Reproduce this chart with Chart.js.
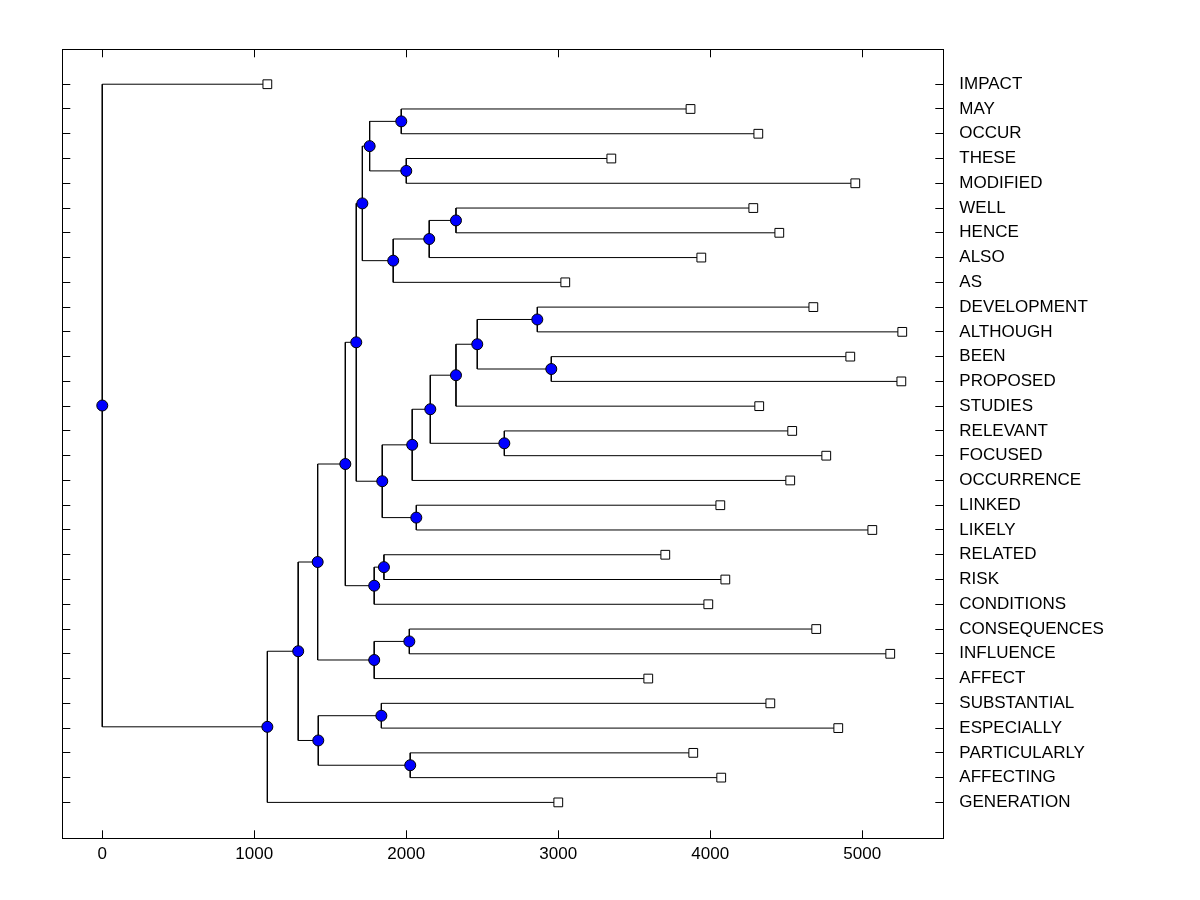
<!DOCTYPE html>
<html>
<head>
<meta charset="utf-8">
<title>Dendrogram</title>
<script src="https://cdn.jsdelivr.net/npm/chart.js@4.4.1/dist/chart.umd.min.js"></script>
<style>
    html, body { margin: 0; padding: 0; background: #fff; }
    #wrap { width: 1200px; height: 900px; position: relative; }
</style>
</head>
<body>
<div id="wrap"><canvas id="dendro"></canvas></div>
<script>
// ===================================
// Dendrogram (leaf order top -> bottom)
// ===================================

const leaves = [
    'IMPACT', 'MAY', 'OCCUR', 'THESE', 'MODIFIED', 'WELL', 'HENCE', 'ALSO', 'AS',
    'DEVELOPMENT', 'ALTHOUGH', 'BEEN', 'PROPOSED', 'STUDIES', 'RELEVANT', 'FOCUSED',
    'OCCURRENCE', 'LINKED', 'LIKELY', 'RELATED', 'RISK', 'CONDITIONS', 'CONSEQUENCES',
    'INFLUENCE', 'AFFECT', 'SUBSTANTIAL', 'ESPECIALLY', 'PARTICULARLY', 'AFFECTING', 'GENERATION'
];

// leaf end positions (x value of the square)
const leafValues = [
    1086, 3870, 4316, 3349, 4954, 4283, 4454, 3941, 3046,
    4678, 5263, 4921, 5257, 4322, 4539, 4763,
    4526, 4066, 5066, 3704, 4099, 3987, 4697,
    5184, 3592, 4395, 4842, 3888, 4072, 3000
];

// merges: children are leaf names or earlier node ids
const mergeIds    = ['n1','n2','n3','n4','n5','n6','n7','n8','n9','n10','n11','n12','n13','n14','n15',
                     'n16','n17','n18','n19','n20','n21','n22','n23','n24','n25','n26','n27','n28','n29'];
const mergeLeft   = ['WELL','n1','n2','MAY','THESE','n4','n6','DEVELOPMENT','BEEN','n8','n10','RELEVANT','n11','n13','LINKED',
                     'n14','n7','RELATED','n18','n17','CONSEQUENCES','n21','n20','SUBSTANTIAL','PARTICULARLY','n24','n23','n27','IMPACT'];
const mergeRight  = ['HENCE','ALSO','AS','OCCUR','MODIFIED','n5','n3','ALTHOUGH','PROPOSED','n9','STUDIES','FOCUSED','n12','OCCURRENCE','LIKELY',
                     'n15','n16','RISK','CONDITIONS','n19','INFLUENCE','AFFECT','n22','ESPECIALLY','AFFECTING','n25','n26','GENERATION','n28'];
const mergeValues = [2327, 2151, 1914, 1967, 2000, 1759, 1711, 2862, 2954, 2467, 2327, 2645, 2158, 2039, 2066,
                     1842, 1671, 1853, 1789, 1599, 2020, 1789, 1417, 1836, 2026, 1421, 1289, 1086, 0];

const xTicks = [0, 1000, 2000, 3000, 4000, 5000];

// Build node positions (y = mean of children rows)
const pos = {};
leaves.forEach((name, i) => { pos[name] = { x: leafValues[i], y: i }; });
mergeIds.forEach((id, i) => {
    const a = pos[mergeLeft[i]], b = pos[mergeRight[i]];
    pos[id] = { x: mergeValues[i], y: (a.y + b.y) / 2 };
});

// One elbow polyline per merge
const linkSets = mergeIds.map((id, i) => {
    const a = pos[mergeLeft[i]], b = pos[mergeRight[i]], h = mergeValues[i];
    return {
        type: 'scatter',
        data: [{ x: a.x, y: a.y }, { x: h, y: a.y }, { x: h, y: b.y }, { x: b.x, y: b.y }],
        showLine: true,
        borderColor: '#000',
        borderWidth: 1,
        pointRadius: 0,
        tension: 0,
        order: 2
    };
});

const nodeSet = {
    type: 'scatter',
    data: mergeIds.map(id => pos[id]),
    pointStyle: 'circle',
    pointRadius: 5.5,
    pointBackgroundColor: '#0000ff',
    pointBorderColor: '#000',
    pointBorderWidth: 1,
    showLine: false,
    order: 0
};

const leafSet = {
    type: 'scatter',
    data: leaves.map(name => pos[name]),
    pointStyle: 'rect',
    pointRadius: 6.2,
    pointBackgroundColor: '#fff',
    pointBorderColor: '#000',
    pointBorderWidth: 1,
    showLine: false,
    order: 1
};

const FONT = { family: '"Liberation Sans", Arial, sans-serif', size: 17 };
const Y_MIN = -1.41, Y_MAX = 30.45;
const X_MIN = -263, X_MAX = 5533;

function leafTicks(axis) {
    axis.ticks = leaves.map((_, i) => ({ value: i }));
}

const inwardGrid = { drawOnChartArea: false, drawTicks: true, tickLength: -8, color: '#000', lineWidth: 1 };
const blackBorder = { display: true, color: '#000', width: 1 };

new Chart(document.getElementById('dendro'), {
    type: 'scatter',
    data: { datasets: [nodeSet, leafSet, ...linkSets] },
    options: {
        responsive: true,
        maintainAspectRatio: false,
        animation: false,
        layout: { padding: 0 },
        plugins: {
            legend: { display: false },
            tooltip: { enabled: false }
        },
        scales: {
            x: {
                type: 'linear',
                position: 'bottom',
                min: X_MIN,
                max: X_MAX,
                afterBuildTicks: axis => { axis.ticks = xTicks.map(v => ({ value: v })); },
                afterFit: axis => { axis.height = 61.7; },
                grid: inwardGrid,
                border: blackBorder,
                ticks: { color: '#000', font: FONT, padding: 14, maxRotation: 0, callback: value => String(value) }
            },
            xTop: {
                type: 'linear',
                position: 'top',
                min: X_MIN,
                max: X_MAX,
                afterBuildTicks: axis => { axis.ticks = xTicks.map(v => ({ value: v })); },
                afterFit: axis => { axis.height = 49.3; },
                grid: inwardGrid,
                border: blackBorder,
                ticks: { callback: () => '' }
            },
            y: {
                type: 'linear',
                position: 'left',
                reverse: true,
                min: Y_MIN,
                max: Y_MAX,
                afterBuildTicks: leafTicks,
                afterFit: axis => { axis.width = 62.3; },
                grid: inwardGrid,
                border: blackBorder,
                ticks: { callback: () => '' }
            },
            yRight: {
                type: 'linear',
                position: 'right',
                reverse: true,
                min: Y_MIN,
                max: Y_MAX,
                afterBuildTicks: leafTicks,
                afterFit: axis => { axis.width = 256.7; },
                grid: inwardGrid,
                border: blackBorder,
                ticks: {
                    color: '#000',
                    font: FONT,
                    padding: 24,
                    autoSkip: false,
                    callback: value => leaves[value]
                }
            }
        }
    }
});
</script>
</body>
</html>
